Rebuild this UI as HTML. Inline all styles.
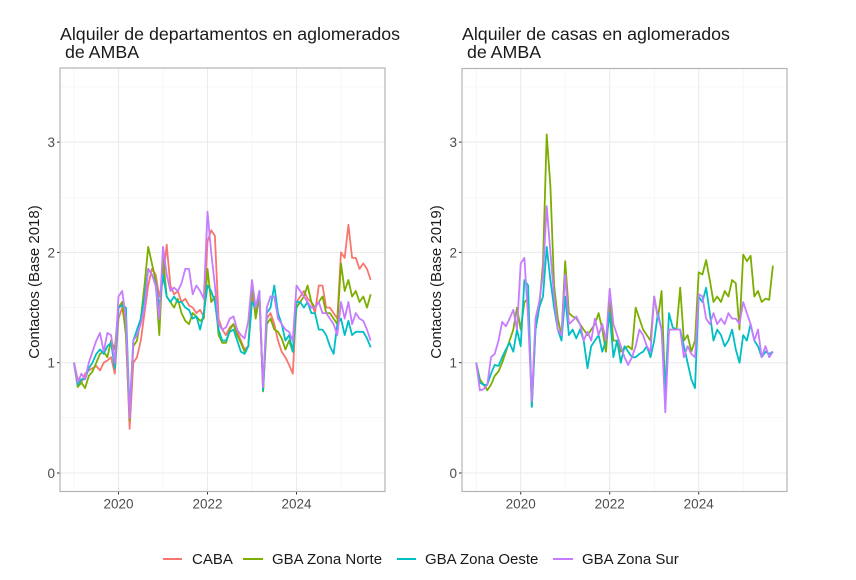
<!DOCTYPE html>
<html><head><meta charset="utf-8"><style>
html,body{margin:0;padding:0;background:#fff;}
svg{display:block;font-family:"Liberation Sans",sans-serif;}
</style></head><body>
<svg id="s" width="856" height="580" viewBox="0 0 856 580" xmlns="http://www.w3.org/2000/svg">
<rect width="856" height="580" fill="#fff"/>
<text x="60" y="40" font-size="17.8" fill="#1a1a1a">Alquiler de departamentos en aglomerados</text>
<text x="60" y="58" font-size="17.8" fill="#1a1a1a" xml:space="preserve"> de AMBA</text>
<text x="462" y="40" font-size="17.8" fill="#1a1a1a">Alquiler de casas en aglomerados</text>
<text x="462" y="58" font-size="17.8" fill="#1a1a1a" xml:space="preserve"> de AMBA</text>
<text transform="translate(39,282) rotate(-90)" text-anchor="middle" font-size="15" fill="#1a1a1a">Contactos (Base 2018)</text>
<text transform="translate(441,282) rotate(-90)" text-anchor="middle" font-size="15" fill="#1a1a1a">Contactos (Base 2019)</text>
<g font-size="15" fill="#1a1a1a">
<line x1="163" y1="559" x2="182" y2="559" stroke="#F8766D" stroke-width="2"/><text x="192" y="564">CABA</text>
<line x1="243" y1="559" x2="263" y2="559" stroke="#7CAE00" stroke-width="2"/><text x="272" y="564">GBA Zona Norte</text>
<line x1="397" y1="559" x2="416" y2="559" stroke="#00BFC4" stroke-width="2"/><text x="425" y="564">GBA Zona Oeste</text>
<line x1="553" y1="559" x2="573" y2="559" stroke="#C77CFF" stroke-width="2"/><text x="582" y="564">GBA Zona Sur</text>
</g>
<g id="g"></g>
</svg>
<script>
var NS="http://www.w3.org/2000/svg",g=document.getElementById("g");
function el(t,a,txt){var e=document.createElementNS(NS,t);for(var k in a)e.setAttribute(k,a[k]);if(txt)e.textContent=txt;g.appendChild(e);return e;}
function panel(x0,x1,y0,y1,x2020,series){
  var yv=function(v){return 473-v*110.3;}, yr=function(y){return x2020+(y-2020)*44.5;};
  [0.5,1.5,2.5,3.5].forEach(function(v){el("line",{x1:x0,x2:x1,y1:yv(v),y2:yv(v),stroke:"#f2f2f2","stroke-width":0.6});});
  [2019,2021,2023,2025].forEach(function(y){el("line",{x1:yr(y),x2:yr(y),y1:y0,y2:y1,stroke:"#f2f2f2","stroke-width":0.6});});
  [0,1,2,3].forEach(function(v){el("line",{x1:x0,x2:x1,y1:yv(v),y2:yv(v),stroke:"#ebebeb","stroke-width":1.1});
    el("line",{x1:x0-3,x2:x0,y1:yv(v),y2:yv(v),stroke:"#333","stroke-width":1});
    el("text",{x:x0-5,y:yv(v)+5,"text-anchor":"end","font-size":"13.5",fill:"#4d4d4d"},String(v));});
  [2020,2022,2024].forEach(function(y){el("line",{x1:yr(y),x2:yr(y),y1:y0,y2:y1,stroke:"#ebebeb","stroke-width":1.1});
    el("line",{x1:yr(y),x2:yr(y),y1:y1,y2:y1+3,stroke:"#333","stroke-width":1});
    el("text",{x:yr(y),y:y1+17,"text-anchor":"middle","font-size":"13.5",fill:"#4d4d4d"},String(y));});
  series.forEach(function(s){var p=s[1].map(function(v,i){return (yr(2019)+i*44.5/12).toFixed(1)+","+yv(v).toFixed(1);}).join(" ");
    el("polyline",{points:p,fill:"none",stroke:s[0],"stroke-width":1.8,"stroke-linejoin":"round"});});
  el("rect",{x:x0,y:y0,width:x1-x0,height:y1-y0,fill:"none",stroke:"#b3b3b3","stroke-width":1.2});
}
var L=[
["#F8766D",[1.0,0.85,0.82,0.9,0.93,0.95,0.97,0.93,1.0,1.02,1.05,0.9,1.4,1.5,1.3,0.4,1.0,1.05,1.2,1.45,1.7,1.85,1.8,1.6,1.75,2.07,1.7,1.62,1.65,1.55,1.58,1.52,1.5,1.45,1.48,1.42,2.1,2.2,2.15,1.4,1.3,1.25,1.32,1.35,1.28,1.2,1.12,1.15,1.6,1.45,1.6,0.75,1.4,1.45,1.35,1.2,1.1,1.05,0.98,0.9,1.55,1.6,1.65,1.58,1.55,1.45,1.7,1.7,1.5,1.5,1.45,1.4,2.0,1.95,2.25,1.95,1.95,1.85,1.9,1.85,1.75]],
["#7CAE00",[1.0,0.78,0.82,0.77,0.88,0.92,1.0,1.08,1.1,1.05,1.2,1.12,1.5,1.55,1.25,0.48,1.15,1.2,1.4,1.7,2.05,1.9,1.75,1.25,1.95,1.6,1.55,1.5,1.58,1.45,1.38,1.35,1.45,1.42,1.38,1.4,1.85,1.55,1.6,1.25,1.18,1.18,1.3,1.35,1.25,1.18,1.1,1.15,1.7,1.4,1.6,0.74,1.35,1.4,1.3,1.28,1.22,1.12,1.2,1.1,1.5,1.55,1.6,1.7,1.55,1.5,1.55,1.6,1.45,1.45,1.4,1.35,1.9,1.65,1.75,1.6,1.65,1.55,1.6,1.5,1.62]],
["#00BFC4",[1.0,0.8,0.85,0.85,0.95,1.0,1.08,1.12,1.08,1.15,1.18,0.95,1.5,1.52,1.5,0.55,1.2,1.3,1.4,1.6,1.85,1.8,1.72,1.5,1.8,1.6,1.55,1.6,1.55,1.55,1.5,1.48,1.4,1.42,1.3,1.45,1.7,1.65,1.55,1.3,1.2,1.2,1.28,1.3,1.2,1.1,1.08,1.15,1.55,1.5,1.65,0.75,1.45,1.5,1.7,1.45,1.35,1.2,1.25,1.1,1.55,1.55,1.5,1.55,1.45,1.45,1.3,1.3,1.25,1.15,1.08,1.35,1.4,1.25,1.38,1.25,1.28,1.28,1.28,1.22,1.14]],
["#C77CFF",[1.0,0.82,0.9,0.85,1.0,1.1,1.2,1.27,1.1,1.27,1.25,1.0,1.6,1.65,1.4,0.5,1.2,1.25,1.35,1.5,1.85,1.8,1.7,1.4,2.05,1.8,1.65,1.68,1.65,1.72,1.85,1.85,1.62,1.7,1.65,1.58,2.37,2.0,1.7,1.35,1.3,1.32,1.4,1.42,1.3,1.25,1.22,1.38,1.75,1.5,1.65,0.78,1.5,1.6,1.6,1.4,1.35,1.3,1.28,1.2,1.7,1.65,1.6,1.55,1.5,1.5,1.55,1.45,1.45,1.4,1.35,1.25,1.55,1.4,1.55,1.35,1.45,1.4,1.38,1.3,1.2]]];
var R=[
["#7CAE00",[1.0,0.85,0.8,0.75,0.8,0.88,0.92,1.0,1.1,1.2,1.3,1.5,1.3,1.55,1.58,0.6,1.3,1.5,1.9,3.07,2.6,1.7,1.4,1.25,1.92,1.45,1.42,1.4,1.35,1.3,1.25,1.3,1.35,1.45,1.3,1.1,1.55,1.2,1.2,1.1,1.13,1.15,1.12,1.5,1.4,1.3,1.25,1.2,1.6,1.4,1.65,0.7,1.3,1.3,1.3,1.68,1.2,1.25,1.1,1.2,1.82,1.8,1.93,1.75,1.55,1.6,1.55,1.65,1.6,1.75,1.72,1.3,1.98,1.92,1.97,1.6,1.65,1.55,1.58,1.57,1.88]],
["#00BFC4",[1.0,0.82,0.8,0.8,0.9,0.98,0.97,1.05,1.12,1.18,1.1,1.3,1.15,1.75,1.7,0.6,1.3,1.5,1.6,2.05,1.75,1.5,1.3,1.2,1.6,1.25,1.3,1.22,1.3,1.2,0.95,1.15,1.2,1.25,1.1,1.2,1.45,1.05,1.2,1.0,1.15,1.1,1.05,1.05,1.08,1.1,1.15,1.05,1.2,1.45,1.3,0.75,1.45,1.32,1.3,1.3,1.15,1.0,0.85,0.77,1.6,1.55,1.68,1.45,1.2,1.3,1.25,1.15,1.2,1.3,1.12,1.0,1.25,1.2,1.35,1.2,1.15,1.05,1.1,1.08,1.1]],
["#C77CFF",[1.0,0.75,0.76,0.8,1.05,1.08,1.2,1.37,1.33,1.4,1.48,1.3,1.9,1.95,1.4,0.65,1.4,1.55,1.8,2.42,2.0,1.6,1.3,1.25,1.8,1.35,1.38,1.42,1.35,1.2,1.28,1.2,1.4,1.25,1.35,1.2,1.67,1.35,1.25,1.15,1.05,0.98,1.05,1.15,1.3,1.25,1.15,1.1,1.6,1.42,1.3,0.55,1.3,1.3,1.3,1.3,1.05,1.15,1.08,1.05,1.62,1.6,1.4,1.35,1.45,1.35,1.4,1.35,1.45,1.4,1.4,1.35,1.55,1.45,1.35,1.2,1.3,1.05,1.15,1.05,1.1]]];
panel(60,385,68,491.5,118.5,L);
panel(462,787,68.5,491.5,520.7,R);
</script>
</body></html>
